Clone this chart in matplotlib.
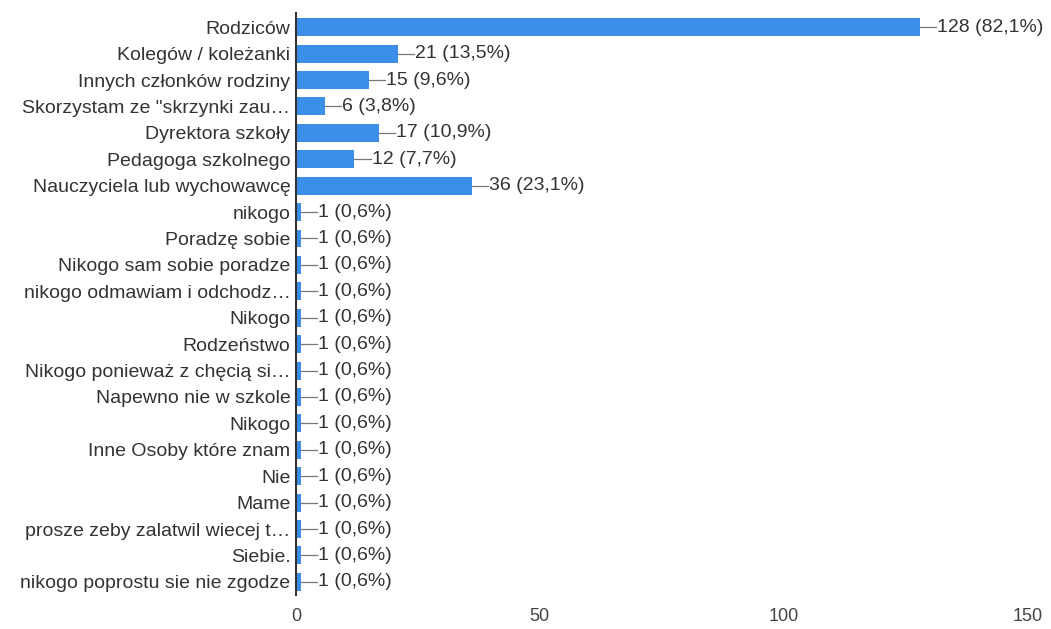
import matplotlib.pyplot as plt

plt.rcParams["font.family"] = ["Liberation Sans", "DejaVu Sans"]

# Odpowiedzi i liczba osób
odpowiedzi = [
    "Rodziców",
    "Kolegów / koleżanki",
    "Innych członków rodziny",
    "Skorzystam ze \"skrzynki zau…",
    "Dyrektora szkoły",
    "Pedagoga szkolnego",
    "Nauczyciela lub wychowawcę",
    "nikogo",
    "Poradzę sobie",
    "Nikogo sam sobie poradze",
    "nikogo odmawiam i odchodz…",
    "Nikogo",
    "Rodzeństwo",
    "Nikogo ponieważ z chęcią si…",
    "Napewno nie w szkole",
    "Nikogo",
    "Inne Osoby które znam",
    "Nie",
    "Mame",
    "prosze zeby zalatwil wiecej t…",
    "Siebie.",
    "nikogo poprostu sie nie zgodze",
]
liczba = [128, 21, 15, 6, 17, 12, 36, 1, 1, 1, 1, 1, 1, 1, 1, 1, 1, 1, 1, 1, 1, 1]
procent = ["82,1", "13,5", "9,6", "3,8", "10,9", "7,7", "23,1"] + ["0,6"] * 15
ticki = [0, 50, 100, 150]

kolor = "#3b8fe8"
tekst = "#333333"

fig = plt.figure(figsize=(10.51, 6.29), dpi=100)
ax = fig.add_axes([0.2816, 0.054, 0.696, 0.925])

y = list(range(len(odpowiedzi)))
ax.barh(y, liczba, height=0.68, color=kolor)

# etykiety z kreską łączącą
for i, (v, p) in enumerate(zip(liczba, procent)):
    ax.plot([v, v + 3.3], [i, i], color="#777777", lw=0.9)
    ax.text(v + 3.5, i, f"{v} ({p}%)", va="center", ha="left",
            fontsize=14, color=tekst)

ax.set_xlim(0, 150)
ax.set_ylim(21.5, -0.53)
ax.set_yticks(y)
ax.set_yticklabels(odpowiedzi, fontsize=14, color=tekst)
ax.set_xticks(ticki)
ax.set_xticklabels([str(t) for t in ticki], fontsize=13, color="#444444")
ax.tick_params(axis="y", length=0, pad=4)
ax.tick_params(axis="x", length=0, pad=9)

for s in ["top", "right", "bottom"]:
    ax.spines[s].set_visible(False)
ax.spines["left"].set_color("#333333")
ax.spines["left"].set_linewidth(1.5)

plt.savefig("out.png", dpi=100)
